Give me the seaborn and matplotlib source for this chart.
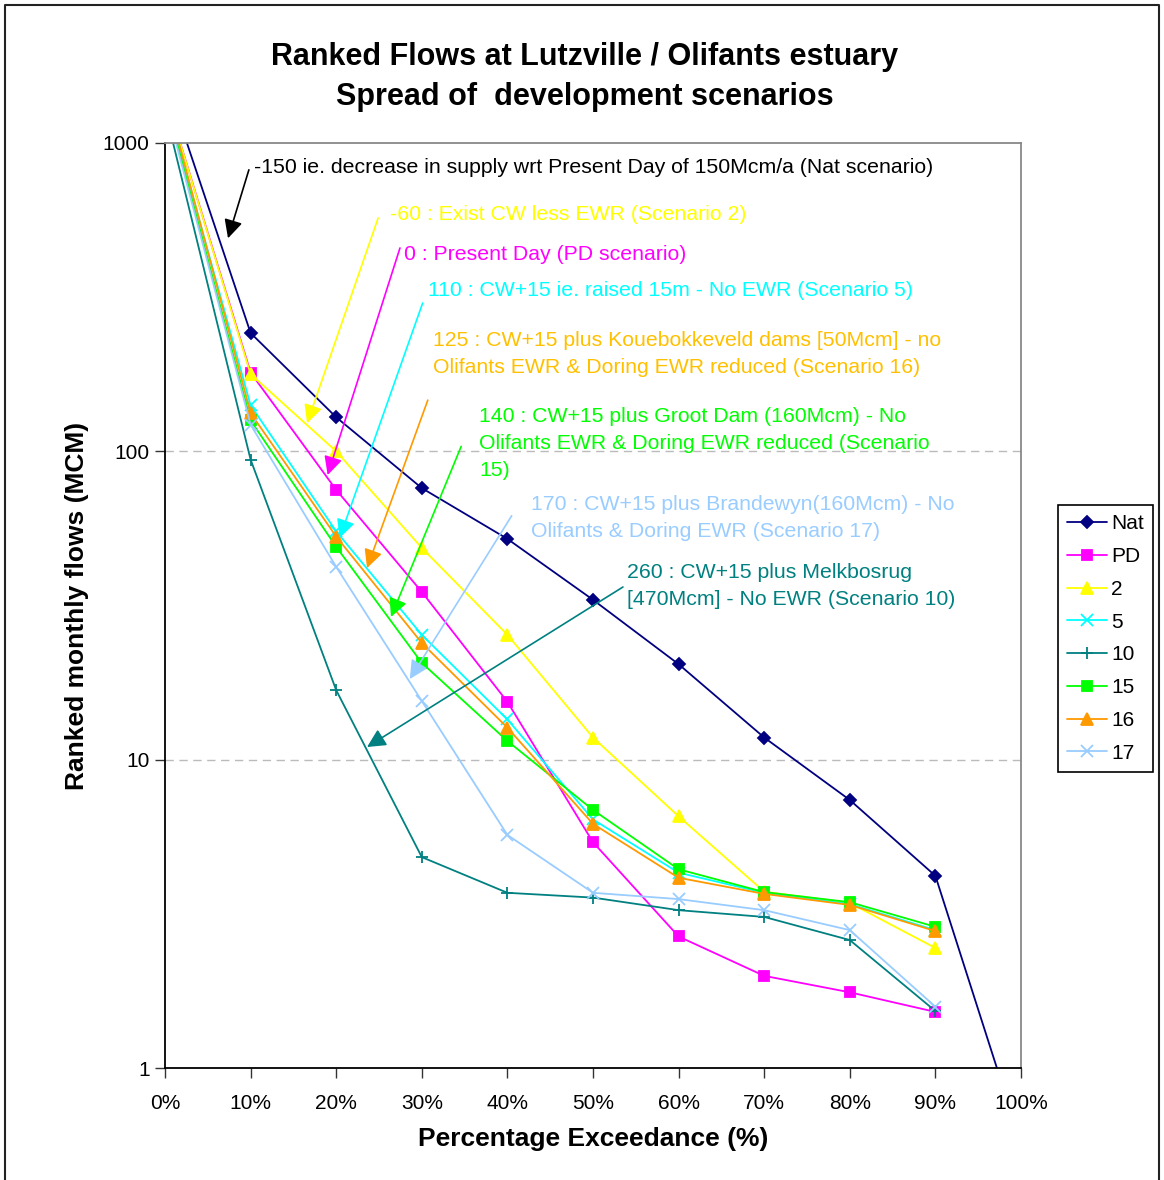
import numpy as np
import pandas as pd
import matplotlib
matplotlib.use("Agg")
import matplotlib.pyplot as plt
import seaborn as sns
from matplotlib.ticker import FixedLocator, PercentFormatter, NullLocator
from matplotlib.lines import Line2D

# --- data ---
exceedance = [0.0, 0.1, 0.2, 0.3, 0.4, 0.5, 0.6, 0.7, 0.8, 0.9]
exceedance_nat = [0.0, 0.1, 0.2, 0.3, 0.4, 0.5, 0.6, 0.7, 0.8, 0.9, 1.0]

nat = [1630, 242, 129, 76, 52, 33, 20.4, 11.8, 7.4, 4.2, 0.57]
pd_flow = [1450, 180, 75, 35, 15.4, 5.4, 2.67, 1.99, 1.76, 1.52]
sc2 = [1450, 178, 100, 48.6, 25.4, 11.8, 6.55, 3.73, 3.43, 2.45]
sc5 = [1420, 141, 55, 25.4, 13.5, 6.4, 4.3, 3.7, 3.4, 2.8]
sc10 = [1280, 94, 16.8, 4.83, 3.7, 3.57, 3.25, 3.09, 2.6, 1.53]
sc15 = [1400, 126, 49, 20.6, 11.5, 6.87, 4.41, 3.72, 3.45, 2.87]
sc16 = [1480, 133, 52.9, 23.9, 12.7, 6.19, 4.14, 3.67, 3.38, 2.78]
sc17 = [1365, 122, 42.2, 15.5, 5.7, 3.7, 3.53, 3.25, 2.8, 1.58]

names = ["Nat", "PD", "2", "5", "10", "15", "16", "17"]
colors = ["#000080", "#FF00FF", "#FFFF00", "#00FFFF", "#008080", "#00FF00", "#FF9900", "#99CCFF"]
markers = ["D", "s", "^", "x", "+", "s", "^", "x"]
msizes = [6, 7, 8, 8, 8, 7, 8, 8]

frames = []
for name, xs, ys in zip(names,
                        [exceedance_nat] + [exceedance] * 7,
                        [nat, pd_flow, sc2, sc5, sc10, sc15, sc16, sc17]):
    frames.append(pd.DataFrame({"exc": xs, "flow": ys, "scenario": name}))
df = pd.concat(frames, ignore_index=True)

# annotation texts
notes = [
    "-150 ie. decrease in supply wrt Present Day of 150Mcm/a (Nat scenario)",
    "-60 : Exist CW less EWR (Scenario 2)",
    "0 : Present Day (PD scenario)",
    "110 : CW+15 ie. raised 15m - No EWR (Scenario 5)",
    "125 : CW+15 plus Kouebokkeveld dams [50Mcm] - no\nOlifants EWR & Doring EWR reduced (Scenario 16)",
    "140 : CW+15 plus Groot Dam (160Mcm) - No\nOlifants EWR & Doring EWR reduced (Scenario\n15)",
    "170 : CW+15 plus Brandewyn(160Mcm) - No\nOlifants & Doring EWR (Scenario 17)",
    "260 : CW+15 plus Melkbosrug\n[470Mcm] - No EWR (Scenario 10)",
]
note_colors = ["black", "#FFFF00", "#FF00FF", "#00FFFF", "#FFC000", "#00FF00", "#99CCFF", "#008080"]
arrow_colors = ["black", "#FFFF00", "#FF00FF", "#00FFFF", "#FF9900", "#00FF00", "#99CCFF", "#008080"]
# placement in axes fraction
note_pos = [(0.104, 0.974), (0.263, 0.923), (0.279, 0.880), (0.307, 0.841),
            (0.313, 0.772), (0.367, 0.675), (0.428, 0.595), (0.540, 0.521)]
arrow_tail = [(0.098, 0.971), (0.249, 0.919), (0.2745, 0.8865), (0.301, 0.827),
              (0.307, 0.722), (0.346, 0.672), (0.405, 0.597), (0.535, 0.520)]
arrow_tip = [(0.0736, 0.897), (0.166, 0.697), (0.190, 0.641), (0.204, 0.573),
             (0.236, 0.5405), (0.264, 0.4876), (0.286, 0.4205), (0.236, 0.347)]

sns.set_style("white")
plt.rcParams["font.family"] = ["Liberation Sans", "DejaVu Sans"]
plt.rcParams.update({"text.color": "black", "axes.labelcolor": "black",
                     "xtick.color": "black", "ytick.color": "black"})

fig = plt.figure(figsize=(11.64, 11.80), dpi=100)
ax = fig.add_axes([165 / 1164, 1 - 1068 / 1180, 856 / 1164, 925 / 1180])

for name, c, m, ms in zip(names, colors, markers, msizes):
    sub = df[df["scenario"] == name]
    sns.lineplot(data=sub, x="exc", y="flow", ax=ax, color=c, marker=m,
                 markersize=ms, mec=c, mfc=c, mew=1.3, linewidth=1.3,
                 label=name, sort=False, estimator=None)

ax.set_yscale("log")
ax.set_ylim(1, 1000)
ax.set_xlim(0, 1)
ax.yaxis.set_major_locator(FixedLocator([1, 10, 100, 1000]))
ax.yaxis.set_minor_locator(NullLocator())
ax.set_yticklabels(["1", "10", "100", "1000"])
ax.set_xticks(np.arange(0, 1.01, 0.1))
ax.xaxis.set_major_formatter(PercentFormatter(xmax=1, decimals=0))
ax.tick_params(axis="both", labelsize=15, length=7, width=1, color="#333333",
               direction="out", bottom=True, left=True)
ax.tick_params(axis="y", pad=4)
ax.tick_params(axis="x", pad=12)

for y in [10, 100]:
    ax.axhline(y, color="#BBBBBB", lw=1, ls=(0, (6, 4)), zorder=0)

ax.spines["left"].set_color("black")
ax.spines["bottom"].set_color("black")
ax.spines["top"].set_color("#888888")
ax.spines["right"].set_color("#888888")
for s in ax.spines.values():
    s.set_linewidth(1.3)

ax.set_xlabel("Percentage Exceedance (%)", fontsize=19, fontweight="bold", labelpad=10)
ax.set_ylabel("Ranked monthly flows (MCM)", fontsize=19, fontweight="bold", labelpad=10)

for txt, tc, ac, pos, tail, tip in zip(notes, note_colors, arrow_colors,
                                       note_pos, arrow_tail, arrow_tip):
    ax.text(pos[0], pos[1], txt, transform=ax.transAxes, color=tc, fontsize=15.3,
            ha="left", va="center", linespacing=1.55)
    ax.annotate("", xy=tip, xytext=tail, xycoords="axes fraction", textcoords="axes fraction",
                arrowprops=dict(arrowstyle="-|>,head_length=0.7,head_width=0.35",
                                color=ac, lw=1.2, mutation_scale=16, shrinkA=0, shrinkB=0))

handles = [Line2D([], [], color=c, marker=m, markersize=ms, mec=c, mfc=c, mew=1.3, lw=1.3)
           for c, m, ms in zip(colors, markers, msizes)]
ax.legend(handles, names, loc="upper left", bbox_to_anchor=(1058 / 1164, 1 - 505 / 1180),
          bbox_transform=fig.transFigure, fontsize=15, frameon=True, fancybox=False,
          edgecolor="black", framealpha=1, handlelength=1.9, labelspacing=0.66,
          borderpad=0.45, handletextpad=0.2, borderaxespad=0)
ax.get_legend().get_frame().set_linewidth(1.2)

fig.text(585 / 1164, 1 - 57 / 1180, "Ranked Flows at Lutzville / Olifants estuary",
         ha="center", va="center", fontsize=22, fontweight="bold")
fig.text(585 / 1164, 1 - 97 / 1180, "Spread of  development scenarios",
         ha="center", va="center", fontsize=22, fontweight="bold")

# outer frame
fig.add_artist(Line2D([5 / 1164, 5 / 1164, 1159 / 1164, 1159 / 1164],
                      [0, 1 - 5 / 1180, 1 - 5 / 1180, 0],
                      transform=fig.transFigure, color="#222222", lw=1.5))

fig.savefig("out.png", dpi=100)
